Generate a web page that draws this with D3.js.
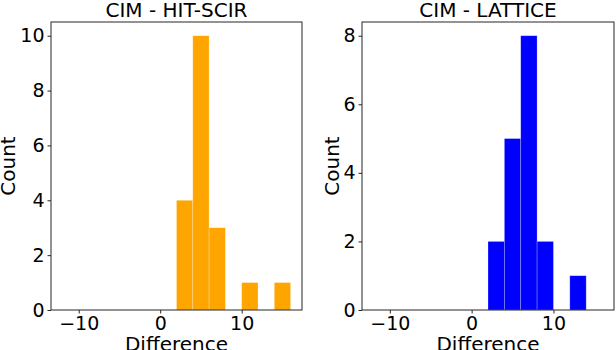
<!DOCTYPE html>
<html>
<head>
<meta charset="utf-8">
<script src="https://cdn.jsdelivr.net/npm/d3@7"></script>
<style>
  body { margin: 0; background: #fff; }
  svg { display: block; font-family: "DejaVu Sans", sans-serif; }
</style>
</head>
<body>
<div id="chart"></div>
<script>
// histogram bins (width 2), counts
var binStarts = [2, 4, 6, 8, 10, 12, 14];
var hitScirCounts = [4, 10, 3, 0, 1, 0, 1];
var latticeCounts = [2, 5, 8, 2, 0, 1, 0];
var xTicks = [-10, 0, 10];
var hitScirYTicks = [0, 2, 4, 6, 8, 10];
var latticeYTicks = [0, 2, 4, 6, 8];
var binWidth = 2;

var width = 616, height = 350;
var svg = d3.select("#chart").append("svg")
	.attr("width", width)
	.attr("height", height);

function drawPanel(opts) {
	var x = d3.scaleLinear().domain([-13.4, 17.4]).range([opts.left, opts.right]);
	var y = d3.scaleLinear().domain([0, opts.ymax]).range([310, 22]);

	var g = svg.append("g");

	var bins = binStarts.map(function(s, i) { return {x0: s, x1: s + binWidth, n: opts.counts[i]}; })
		.filter(function(d) { return d.n > 0; });

	g.selectAll("rect.bar")
		.data(bins)
		.enter().append("rect")
		.attr("class", "bar")
		.attr("x", function(d) { return x(d.x0); })
		.attr("width", function(d) { return x(d.x1) - x(d.x0); })
		.attr("y", function(d) { return y(d.n); })
		.attr("height", function(d) { return y(0) - y(d.n); })
		.style("fill", opts.color)
		.style("stroke", "#fff")
		.style("stroke-opacity", 0.35)
		.style("stroke-width", 0.7);

	// frame
	g.append("rect")
		.attr("x", opts.left)
		.attr("y", 22)
		.attr("width", opts.right - opts.left)
		.attr("height", 310 - 22)
		.style("fill", "none")
		.style("stroke", "#262626")
		.style("stroke-width", 1);

	var xAxis = g.append("g")
		.attr("transform", "translate(0,310)")
		.call(d3.axisBottom(x).tickValues(xTicks).tickSize(3.5).tickPadding(3)
			.tickFormat(function(d) { return d < 0 ? "\u2212" + Math.abs(d) : d; }));
	var yAxis = g.append("g")
		.attr("transform", "translate(" + opts.left + ",0)")
		.call(d3.axisLeft(y).tickValues(opts.yTicks).tickSize(3.5).tickPadding(3));

	[xAxis, yAxis].forEach(function(a) {
		a.select(".domain").remove();
		a.selectAll("line").style("stroke", "#262626");
		a.selectAll("text")
			.style("font-family", "DejaVu Sans")
			.style("font-size", "19px")
			.style("fill", "#000");
	});
	xAxis.selectAll("text").attr("dy", "0.72em");

	g.append("text")
		.attr("x", (opts.left + opts.right) / 2)
		.attr("y", 17)
		.attr("text-anchor", "middle")
		.style("font-size", "20px")
		.text(opts.title);

	g.append("text")
		.attr("x", (opts.left + opts.right) / 2)
		.attr("y", 351)
		.attr("text-anchor", "middle")
		.style("font-size", "20px")
		.text("Difference");

	g.append("text")
		.attr("transform", "translate(" + opts.labelX + ",166) rotate(-90)")
		.attr("text-anchor", "middle")
		.style("font-size", "20px")
		.text("Count");
}

drawPanel({left: 51, right: 302, ymax: 10.5, counts: hitScirCounts, yTicks: hitScirYTicks,
	color: "#FFA500", title: "CIM - HIT-SCIR", labelX: 15});
drawPanel({left: 362, right: 614, ymax: 8.4, counts: latticeCounts, yTicks: latticeYTicks,
	color: "#0000FF", title: "CIM - LATTICE", labelX: 339});
</script>
</body>
</html>
